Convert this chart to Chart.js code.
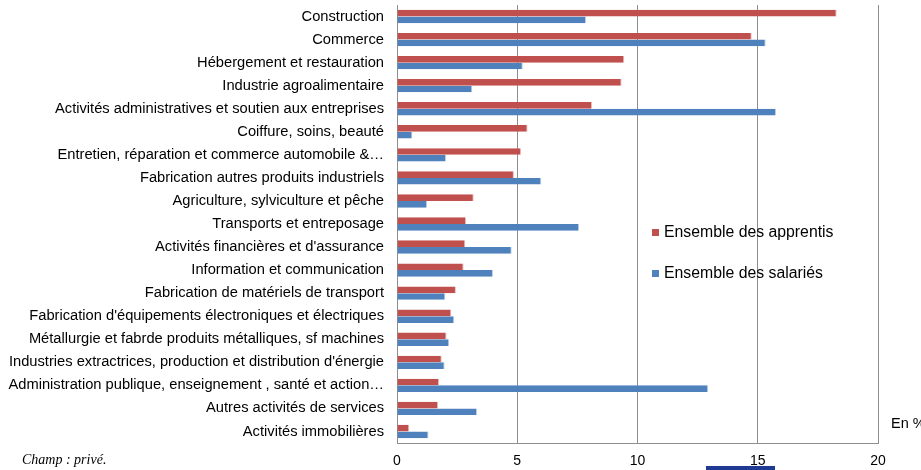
<!DOCTYPE html>
<html><head><meta charset="utf-8">
<script src="https://cdn.jsdelivr.net/npm/chart.js@4/dist/chart.umd.min.js"></script>
<style>
html,body{margin:0;padding:0;background:#fff;}
#wrap{position:relative;width:921px;height:470px;overflow:hidden;font-family:"Liberation Sans",Arial,sans-serif;}
canvas{position:absolute;left:0;top:0;}
.leg{position:absolute;font-size:15.8px;color:#000;white-space:nowrap;line-height:18px;}
.leg i{display:inline-block;width:7px;height:7px;margin-right:5px;vertical-align:1px;}
#champ{position:absolute;left:22px;top:452px;font-family:"Liberation Serif","Times New Roman",serif;font-style:italic;font-size:14px;white-space:nowrap;}
#enpct{position:absolute;left:891px;top:415px;font-size:14.5px;white-space:nowrap;}
#deco{position:absolute;left:706px;top:466px;width:69px;height:4px;background:#1f3a93;}
</style></head>
<body><div id="wrap">
<canvas id="c" width="921" height="470"></canvas>
<div class="leg" style="left:652px;top:223px;"><i style="background:#C0504D"></i>Ensemble des apprentis</div>
<div class="leg" style="left:652px;top:264px;"><i style="background:#4F81BD"></i>Ensemble des salariés</div>
<div id="champ">Champ : privé.</div>
<div id="enpct">En %</div>
<div id="deco"></div>
</div>
<script>
const categories = [
 "Construction",
 "Commerce",
 "Hébergement et restauration",
 "Industrie agroalimentaire",
 "Activités administratives et soutien aux entreprises",
 "Coiffure, soins, beauté",
 "Entretien, réparation et commerce automobile &…",
 "Fabrication autres produits industriels",
 "Agriculture, sylviculture et pêche",
 "Transports et entreposage",
 "Activités financières et d'assurance",
 "Information et communication",
 "Fabrication de matériels de transport",
 "Fabrication d'équipements électroniques et électriques",
 "Métallurgie et fabrde produits métalliques, sf machines",
 "Industries extractrices, production et distribution d'énergie",
 "Administration publique, enseignement , santé et action…",
 "Autres activités de services",
 "Activités immobilières"
];
const apprentis = [18.28, 14.75, 9.45, 9.34, 8.11, 5.43, 5.16, 4.86, 3.19, 2.87, 2.84, 2.77, 2.45, 2.26, 2.06, 1.86, 1.75, 1.71, 0.51];
const salaries  = [7.86, 15.33, 5.23, 3.13, 15.76, 0.64, 2.04, 6.0, 1.25, 7.57, 4.77, 3.99, 2.01, 2.38, 2.17, 1.98, 12.94, 3.33, 1.31];
const xTicks = [0, 5, 10, 15, 20];

new Chart(document.getElementById('c'), {
  type: 'bar',
  data: {
    labels: categories,
    datasets: [
      {label: 'Ensemble des apprentis', data: apprentis, backgroundColor: '#C0504D', borderColor: 'rgba(231,180,178,0.9)', borderWidth: {top:0,bottom:0,right:1,left:0}, borderSkipped: false},
      {label: 'Ensemble des salariés', data: salaries, backgroundColor: '#4F81BD', borderColor: 'rgba(178,200,230,0.9)', borderWidth: {top:0,bottom:0,right:1,left:0}, borderSkipped: false}
    ]
  },
  options: {
    indexAxis: 'y',
    responsive: false,
    animation: false,
    devicePixelRatio: 1,
    layout: {padding: {top: 5, right: 43, bottom: 0, left: 0}},
    categoryPercentage: 0.58,
    barPercentage: 1.0,
    plugins: {legend: {display: false}, tooltip: {enabled: false}},
    scales: {
      x: {
        min: 0, max: 20,
        afterBuildTicks: s => { s.ticks = xTicks.map(v => ({value: v})); },
        afterFit: s => { s.height = 27; s.paddingLeft = 0; s.paddingRight = 0; },
        grid: {color: '#8e8e8e', lineWidth: 1, drawTicks: false},
        border: {display: true, color: '#8e8e8e'},
        ticks: {padding: 10, color: '#000', font: {family: '"Liberation Sans", Arial, sans-serif', size: 14}}
      },
      y: {
        afterFit: s => { s.width = 397; s.paddingTop = 0; s.paddingBottom = 0; },
        grid: {display: false, drawTicks: false},
        border: {display: true, color: '#8e8e8e'},
        ticks: {padding: 13, color: '#000', autoSkip: false, font: {family: '"Liberation Sans", Arial, sans-serif', size: 14.7}}
      }
    }
  }
});
</script>
</body></html>
